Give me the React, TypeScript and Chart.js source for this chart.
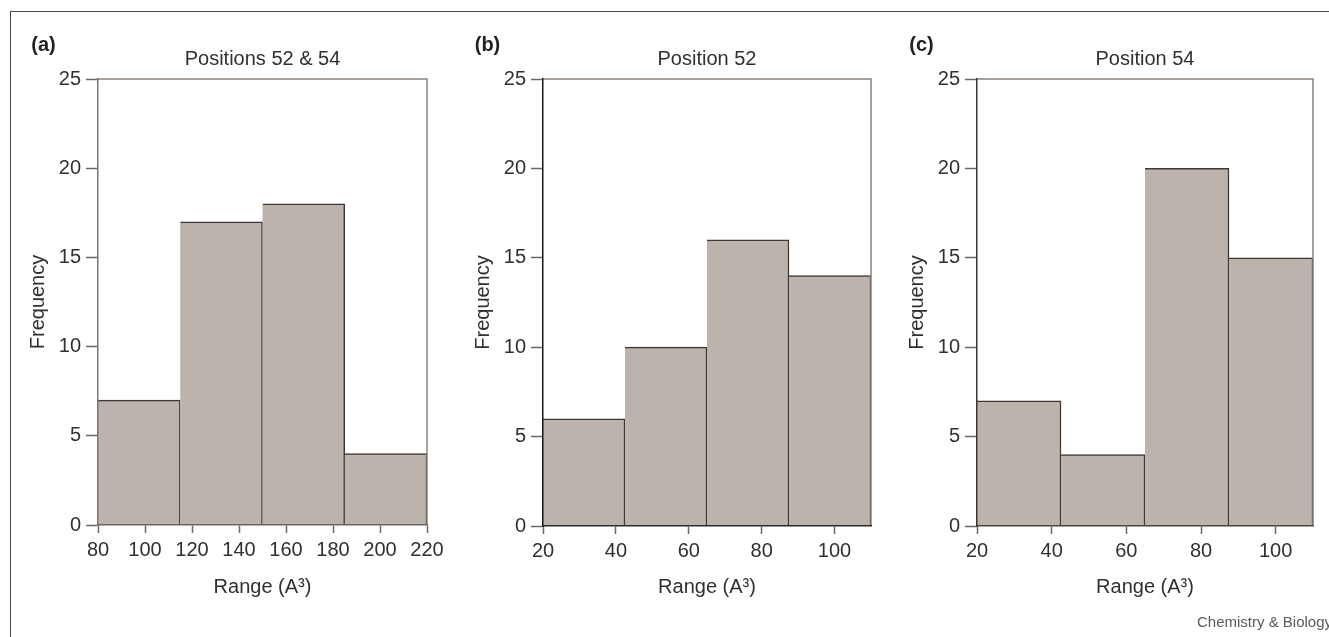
import React, { useEffect, useRef } from 'react';
import { Chart, registerables } from 'chart.js';

Chart.register(...registerables);

// ---------- data ----------
const rangeEdgesA = [80, 115, 150, 185, 220];
const frequencyA = [7, 17, 18, 4];
const rangeEdgesB = [20, 42.5, 65, 87.5, 110];
const frequencyB = [6, 10, 16, 14];
const rangeEdgesC = [20, 42.5, 65, 87.5, 110];
const frequencyC = [7, 4, 20, 15];
const xTickValuesA = [80, 100, 120, 140, 160, 180, 200, 220];
const xTickValuesBC = [20, 40, 60, 80, 100];
const yTickValues = [0, 5, 10, 15, 20, 25];
const panelLetters = ['(a)', '(b)', '(c)'];
const panelTitles = ['Positions 52 & 54', 'Position 52', 'Position 54'];
const xAxisTitle = 'Range (A\u00B3)';
const yAxisTitle = 'Frequency';
const creditText = 'Chemistry & Biology';

// ---------- layout & style ----------
const W = 1329;
const H = 637;
const FONT = "'Liberation Sans', Arial, Helvetica, sans-serif";
const TEXT = '#303030';
const BAR_FILL = '#bcb3ac';
const BAR_EDGE = '#3e3735';
const FRAME = '#8c817b';
const TICK = '#6f6661';
const Y_AXIS_W = 76;
const TITLE_TOP = 47;
const X_SCALE_BOTTOM = 603;

type PanelCfg = {
  edges: number[];
  counts: number[];
  xTicks: number[];
  letter: string;
  title: string;
  area: { l: number; r: number; t: number; b: number };
  letterX: number;
  leftAxis: string;
  bottomAxis: string;
};

const PANELS: PanelCfg[] = [
  {
    edges: rangeEdgesA, counts: frequencyA, xTicks: xTickValuesA,
    letter: panelLetters[0], title: panelTitles[0],
    area: { l: 98, r: 427, t: 79, b: 525 }, letterX: 43.5,
    leftAxis: '#7f746e', bottomAxis: '#6e645f',
  },
  {
    edges: rangeEdgesB, counts: frequencyB, xTicks: xTickValuesBC,
    letter: panelLetters[1], title: panelTitles[1],
    area: { l: 543, r: 871, t: 79, b: 526 }, letterX: 487.5,
    leftAxis: '#161616', bottomAxis: '#2b2b2b',
  },
  {
    edges: rangeEdgesC, counts: frequencyC, xTicks: xTickValuesBC,
    letter: panelLetters[2], title: panelTitles[2],
    area: { l: 977, r: 1313, t: 79, b: 526 }, letterX: 921.5,
    leftAxis: '#363636', bottomAxis: '#4a4441',
  },
];

function HistogramPanel({ cfg }: { cfg: PanelCfg }) {
  const ref = useRef<HTMLCanvasElement>(null);

  useEffect(() => {
    const canvas = ref.current;
    if (!canvas) return;
    const bins = cfg.counts.map((c, i) => ({ x: (cfg.edges[i] + cfg.edges[i + 1]) / 2, y: c }));
    const xMin = cfg.edges[0];
    const xMax = cfg.edges[cfg.edges.length - 1];
    const font = { family: FONT, size: 20, weight: 'normal' as const };

    const decor = {
      id: 'decor',
      afterDatasetsDraw(chart: any) {
        const { ctx, chartArea } = chart;
        ctx.save();
        ctx.strokeStyle = FRAME;
        ctx.lineWidth = 1.5;
        ctx.beginPath();
        ctx.moveTo(chartArea.left, chartArea.top);
        ctx.lineTo(chartArea.right, chartArea.top);
        ctx.lineTo(chartArea.right, chartArea.bottom);
        ctx.stroke();
        ctx.restore();
      },
      afterDraw(chart: any) {
        const { ctx } = chart;
        ctx.save();
        ctx.fillStyle = '#222';
        ctx.font = `bold 20px ${FONT}`;
        ctx.textAlign = 'center';
        ctx.textBaseline = 'middle';
        ctx.fillText(cfg.letter, cfg.letterX, 45);
        ctx.restore();
      },
    };

    const chart = new Chart(canvas, {
      type: 'bar',
      data: {
        datasets: [
          {
            data: bins as any,
            xAxisID: 'xBins',
            yAxisID: 'y',
            backgroundColor: BAR_FILL,
            borderColor: BAR_EDGE,
            borderWidth: { top: 1.5, right: 1.5, left: 0, bottom: 0 } as any,
            barPercentage: 1,
            categoryPercentage: 1,
          },
        ],
      },
      options: {
        responsive: false,
        animation: false,
        events: [],
        layout: {
          padding: {
            left: cfg.area.l - Y_AXIS_W,
            right: W - cfg.area.r,
            top: TITLE_TOP,
            bottom: H - X_SCALE_BOTTOM,
          },
        },
        plugins: {
          legend: { display: false },
          tooltip: { enabled: false },
          title: {
            display: true,
            text: cfg.title,
            fullSize: false,
            color: TEXT,
            font,
            padding: { top: 0, bottom: cfg.area.t - TITLE_TOP - 24 },
          },
        },
        scales: {
          xBins: {
            type: 'linear',
            display: false,
            min: xMin,
            max: xMax,
            offset: false,
            grid: { offset: false },
            afterBuildTicks: (s: any) => {
              s.ticks = cfg.edges.map((v) => ({ value: v }));
            },
          },
          x: {
            type: 'linear',
            position: 'bottom',
            min: xMin,
            max: xMax,
            offset: false,
            afterBuildTicks: (s: any) => {
              s.ticks = cfg.xTicks.map((v) => ({ value: v }));
            },
            afterFit: (s: any) => {
              s.height = X_SCALE_BOTTOM - cfg.area.b;
            },
            grid: {
              display: true,
              drawOnChartArea: false,
              drawTicks: true,
              tickLength: 8,
              tickColor: TICK,
              tickWidth: 1.5,
              offset: false,
            },
            border: { display: true, color: cfg.bottomAxis, width: 1.5, z: 1 },
            ticks: { color: TEXT, font, padding: 5, maxRotation: 0, autoSkip: false },
            title: {
              display: true,
              text: xAxisTitle,
              color: TEXT,
              font,
              padding: { top: 0, bottom: 4 },
            },
          },
          y: {
            type: 'linear',
            position: 'left',
            min: 0,
            max: 25,
            afterBuildTicks: (s: any) => {
              s.ticks = yTickValues.map((v) => ({ value: v }));
            },
            afterFit: (s: any) => {
              s.width = Y_AXIS_W;
            },
            grid: {
              display: true,
              drawOnChartArea: false,
              drawTicks: true,
              tickLength: 12,
              tickColor: TICK,
              tickWidth: 1.5,
            },
            border: { display: true, color: cfg.leftAxis, width: 1.5, z: 1 },
            ticks: { color: TEXT, font, padding: 5, autoSkip: false },
            title: {
              display: true,
              text: yAxisTitle,
              color: TEXT,
              font,
              padding: { top: 4, bottom: 0 },
            },
          },
        } as any,
      },
      plugins: [decor],
    });

    return () => chart.destroy();
  }, [cfg]);

  return (
    <canvas
      ref={ref}
      width={W}
      height={H}
      style={{ position: 'absolute', left: 0, top: 0, width: W, height: H }}
    />
  );
}

export default function App() {
  return (
    <div
      style={{
        position: 'absolute',
        left: 0,
        top: 0,
        width: W,
        height: H,
        overflow: 'hidden',
        background: '#ffffff',
      }}
    >
      <div
        style={{
          position: 'absolute',
          left: 10,
          top: 11,
          width: W - 10,
          height: H - 11,
          boxSizing: 'border-box',
          borderTop: '1px solid #4a4a4a',
          borderLeft: '1px solid #4a4a4a',
        }}
      />
      {PANELS.map((p, i) => (
        <HistogramPanel key={i} cfg={p} />
      ))}
      <span
        style={{
          position: 'absolute',
          left: 1197,
          top: 613,
          fontFamily: FONT,
          fontSize: 15,
          lineHeight: '18px',
          color: '#5a5a5a',
          whiteSpace: 'nowrap',
        }}
      >
        {creditText}
      </span>
    </div>
  );
}
